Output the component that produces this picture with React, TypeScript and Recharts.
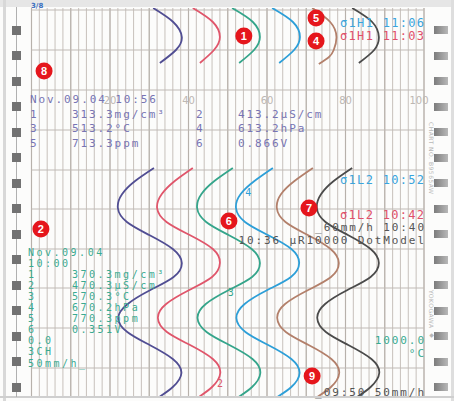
import React from 'react';
import { LineChart, Line, XAxis, YAxis, ReferenceLine, ReferenceDot } from 'recharts';

const W = 454;
const H = 401;

// paper runs downwards: t is the position along the chart paper
const arcTimes = [8, 22, 37, 50, 63];
const brownArcTimes = [8, 22, 37, 50, 57, 64];
const traceTimes = [168, 181, 194, 208, 222, 235, 249, 263, 277, 290, 304, 318, 332, 345, 359, 373, 387, 400];

// channel values (% of span) read from the paper
const ch1Arc = [31.0, 36.1, 38.3, 36.8, 32.7];
const ch2Arc = [41.1, 46.2, 48.0, 46.5, 42.9];
const ch3Arc = [51.1, 56.4, 58.2, 56.7, 52.9];
const ch4Arc = [61.3, 66.6, 68.4, 66.9, 63.1];
const ch5Arc = [71.5, 76.1, 77.7, 77.0, 75.8, 73.2];
const ch6Arc = [81.7, 86.8, 88.5, 87.3, 83.4];

const ch1Trace = [31.2, 26.4, 23.1, 22.0, 24.3, 30.0, 36.0, 38.3, 36.2, 30.3, 24.5, 22.1, 24.4, 30.1, 36.0, 38.2, 36.0, 31.4];
const ch2Trace = [41.1, 36.5, 33.2, 32.0, 34.4, 40.3, 46.2, 48.0, 46.0, 40.2, 34.3, 32.2, 34.5, 40.4, 46.2, 48.1, 46.0, 41.5];
const ch3Trace = [51.3, 46.6, 43.3, 42.2, 44.5, 50.2, 56.1, 58.2, 56.2, 50.3, 44.4, 42.3, 44.6, 50.4, 56.3, 58.3, 56.2, 51.6];
const ch4Trace = [61.5, 56.8, 53.3, 52.1, 54.4, 60.2, 66.2, 68.2, 66.1, 60.1, 54.3, 52.2, 54.5, 60.3, 66.2, 68.3, 66.2, 61.4];
const ch5Trace = [71.7, 67.0, 63.6, 62.5, 64.7, 70.4, 76.2, 78.3, 76.3, 70.5, 64.6, 62.6, 64.8, 70.6, 76.4, 78.4, 76.3, 71.6];
const ch6Trace = [81.7, 77.0, 73.8, 72.7, 74.9, 80.6, 86.4, 88.5, 86.4, 80.5, 74.8, 72.8, 75.0, 80.7, 86.6, 88.6, 86.4, 81.8];

const gridTicks = Array.from({ length: 51 }, (_, i) => i * 2);
const majorTicks = [0, 10, 20, 30, 40, 50, 60, 70, 80, 90, 100];
const rowLines = [10, 50, 90, 130, 170, 209, 249, 288, 328, 368];
const scaleLabels = [20, 40, 60, 80, 100];
const scaleLabelT = 100;

const badgeNums = [1, 5, 4, 8, 2, 6, 7, 9];
const badgeX = [54.1, 72.5, 72.5, 3.2, 2.4, 50.3, 70.7, 71.5];
const badgeT = [36, 18, 41, 71, 229, 221, 208, 376];

const penMarks = [
  { n: '4', x: 55.2, t: 192, color: '#2d9fd8' },
  { n: '3', x: 50.8, t: 292, color: '#35a58b' },
  { n: '2', x: 48.0, t: 383, color: '#e0566b' },
];

const topReadout = [
  ['1', '313.3mg/cm³', '2', '413.2μS/cm'],
  ['3', '513.2°C', '4', '613.2hPa'],
  ['5', '713.3ppm', '6', '0.866V'],
];
const lowReadout = [
  ['Nov.09.04', ''],
  ['10:00', ''],
  ['1', '370.3mg/cm³'],
  ['2', '470.3μS/cm'],
  ['3', '570.3°C'],
  ['4', '670.2hPa'],
  ['5', '770.3ppm'],
  ['6', '0.351V'],
  ['0.0', ''],
  ['3CH', ''],
  ['50mm/h_', ''],
];

const channels = [
  { key: 'ch1', color: '#514e93', arcT: arcTimes, arc: ch1Arc, trace: ch1Trace },
  { key: 'ch2', color: '#e0566b', arcT: arcTimes, arc: ch2Arc, trace: ch2Trace },
  { key: 'ch3', color: '#35a58b', arcT: arcTimes, arc: ch3Arc, trace: ch3Trace },
  { key: 'ch4', color: '#2d9fd8', arcT: arcTimes, arc: ch4Arc, trace: ch4Trace },
  { key: 'ch5', color: '#b3806b', arcT: brownArcTimes, arc: ch5Arc, trace: ch5Trace },
  { key: 'ch6', color: '#4b4b4b', arcT: arcTimes, arc: ch6Arc, trace: ch6Trace },
];

const rowsFor = (times: number[], vals: number[]) => times.map((t, i) => ({ t, v: vals[i] }));

const MONO = '"DejaVu Sans Mono", monospace';

const Mono = ({ x, y, color, size = 11, spacing = 1.9, right = false, children }: any) => (
  <div
    style={{
      position: 'absolute',
      top: y - 5.5,
      left: right ? undefined : x,
      right: right ? W - x - spacing : undefined,
      color,
      fontFamily: MONO,
      fontSize: size,
      letterSpacing: spacing,
      lineHeight: '11px',
      whiteSpace: 'pre',
    }}
  >
    {children}
  </div>
);

const sprocketY = Array.from({ length: 15 }, (_, i) => 30 + i * 25.5);

export default function App() {
  return (
    <div style={{ position: 'absolute', left: 0, top: 0, width: W, height: H, background: '#fcfcfb', overflow: 'hidden' }}>
      {/* frame and sprocket strips */}
      <div style={{ position: 'absolute', left: 0, top: 0, width: W, height: 7, background: '#e6e6e6' }} />
      <div style={{ position: 'absolute', left: 3, top: 0, width: 3, height: H, background: '#d8d8d8' }} />
      <div style={{ position: 'absolute', left: 451, top: 0, width: 3, height: H, background: '#dedede' }} />
      <div style={{ position: 'absolute', left: 0, top: 396, width: W, height: 2, background: '#cfcfcf' }} />
      <div style={{ position: 'absolute', left: 16, top: 7, width: 1, height: 390, background: '#b0b0b0' }} />
      {sprocketY.map((y) => (
        <React.Fragment key={y}>
          <div style={{ position: 'absolute', left: 12, top: y - 4.5, width: 9, height: 9, background: '#727272' }} />
          <div
            style={{
              position: 'absolute', left: 434, top: y - 4, width: 14, height: 8,
              background: 'linear-gradient(90deg, #7c7c7c, #b8b8b8)',
            }}
          />
        </React.Fragment>
      ))}

      <div style={{ position: 'absolute', left: 0, top: 0 }}>
        <LineChart width={W} height={H} layout="vertical" margin={{ top: 8, right: 30, bottom: 5, left: 31.5 }}>
          <XAxis type="number" domain={[0, 100]} ticks={gridTicks} height={0} tick={false} axisLine={false} tickLine={false} />
          <YAxis
            type="number"
            dataKey="t"
            domain={[8, 396]}
            allowDataOverflow
            ticks={rowLines}
            width={0}
            tick={false}
            axisLine={false}
            tickLine={false}
          />
          {gridTicks.map((v) => (
            <ReferenceLine key={'g' + v} x={v} stroke="#ccc6c1" strokeWidth={1.1} />
          ))}
          {majorTicks.map((v) => (
            <ReferenceLine key={'m' + v} x={v} stroke="#b7b1ab" strokeWidth={1.1} />
          ))}
          {rowLines.map((t) => (
            <ReferenceLine key={'r' + t} y={t} stroke="#c0bab5" strokeWidth={1.1} />
          ))}
          {scaleLabels.map((v) => (
            <ReferenceDot
              key={'s' + v}
              x={v}
              y={scaleLabelT}
              r={0}
              label={{ value: String(v), position: 'center', fill: '#bcb7b2', fontSize: 10, fontFamily: 'DejaVu Sans', dx: v === 100 ? -5 : 0 }}
            />
          ))}
          {channels.map((c) => (
            <Line
              key={c.key + 'arc'}
              data={rowsFor(c.arcT, c.arc)}
              dataKey="v"
              name={c.key + ' arc'}
              type="natural"
              stroke={c.color}
              strokeWidth={1.8}
              dot={false}
              activeDot={false}
              isAnimationActive={false}
            />
          ))}
          {channels.map((c) => (
            <Line
              key={c.key + 'trace'}
              data={rowsFor(traceTimes, c.trace)}
              dataKey="v"
              name={c.key}
              type="natural"
              stroke={c.color}
              strokeWidth={1.8}
              dot={false}
              activeDot={false}
              isAnimationActive={false}
            />
          ))}
          {penMarks.map((p) => (
            <ReferenceDot
              key={'p' + p.n}
              x={p.x}
              y={p.t}
              r={0}
              label={{ value: p.n, position: 'center', fill: p.color, fontSize: 10, fontFamily: MONO }}
            />
          ))}
          {badgeNums.map((n, i) => (
            <ReferenceDot
              key={'b' + n}
              x={badgeX[i]}
              y={badgeT[i]}
              r={8.5}
              fill="#e5161c"
              stroke="none"
              label={{ value: String(n), position: 'center', fill: '#ffffff', fontSize: 11, fontWeight: 700, fontFamily: 'Arial, Liberation Sans, sans-serif' }}
            />
          ))}
        </LineChart>
      </div>

      {/* recorder printout */}
      <div style={{ position: 'absolute', left: 31, top: 2, color: '#3b6fc0', fontSize: 7, fontFamily: 'DejaVu Sans', fontWeight: 700 }}>3/8</div>

      <Mono x={30} y={99} color="#7774b3">Nov.09.04 10:56</Mono>
      {topReadout.map((r, i) => (
        <React.Fragment key={'tr' + i}>
          <Mono x={30} y={114 + i * 14.5} color="#7774b3">{r[0]}</Mono>
          <Mono x={72} y={114 + i * 14.5} color="#7774b3">{r[1]}</Mono>
          <Mono x={196} y={114 + i * 14.5} color="#7774b3">{r[2]}</Mono>
          <Mono x={238} y={114 + i * 14.5} color="#7774b3">{r[3]}</Mono>
        </React.Fragment>
      ))}

      {lowReadout.map((r, i) => (
        <React.Fragment key={'lr' + i}>
          <Mono x={28} y={252 + i * 11.1} color="#3aaa90" size={10} spacing={2.5}>{r[0]}</Mono>
          <Mono x={72} y={252 + i * 11.1} color="#3aaa90" size={10} spacing={2.5}>{r[1]}</Mono>
        </React.Fragment>
      ))}

      <Mono x={424} y={23} right color="#3aa4dc" size={12} spacing={1.3}>σ1H1 11:06</Mono>
      <Mono x={424} y={36} right color="#e0506a" size={12} spacing={1.3}>σ1H1 11:03</Mono>
      <Mono x={424} y={180} right color="#3aa4dc" size={12} spacing={1.3}>σ1L2 10:52</Mono>
      <Mono x={424} y={215} right color="#e0506a" size={12} spacing={1.3}>σ1L2 10:42</Mono>
      <Mono x={424} y={227} right color="#555555">_60mm/h 10:40</Mono>
      <Mono x={424} y={240} right color="#555555">10:36 μR10000 DotModel</Mono>
      <Mono x={424} y={340} right color="#3aaa90" size={11} spacing={1.9}>1000.0</Mono>
      <Mono x={424} y={353} right color="#3aaa90">°C</Mono>
      <Mono x={424} y={392} right color="#555555">_09:50 50mm/h</Mono>

      <div style={{ position: 'absolute', left: 428, top: 122, writingMode: 'vertical-rl', fontSize: 6, color: '#b8b8b8', fontFamily: 'DejaVu Sans', letterSpacing: 0.5 }}>
        CHART NO. B9565AW
      </div>
      <div style={{ position: 'absolute', left: 428, top: 290, writingMode: 'vertical-rl', fontSize: 6, color: '#b8b8b8', fontFamily: 'DejaVu Sans', letterSpacing: 0.5 }}>
        YOKOGAWA ◆
      </div>
    </div>
  );
}
